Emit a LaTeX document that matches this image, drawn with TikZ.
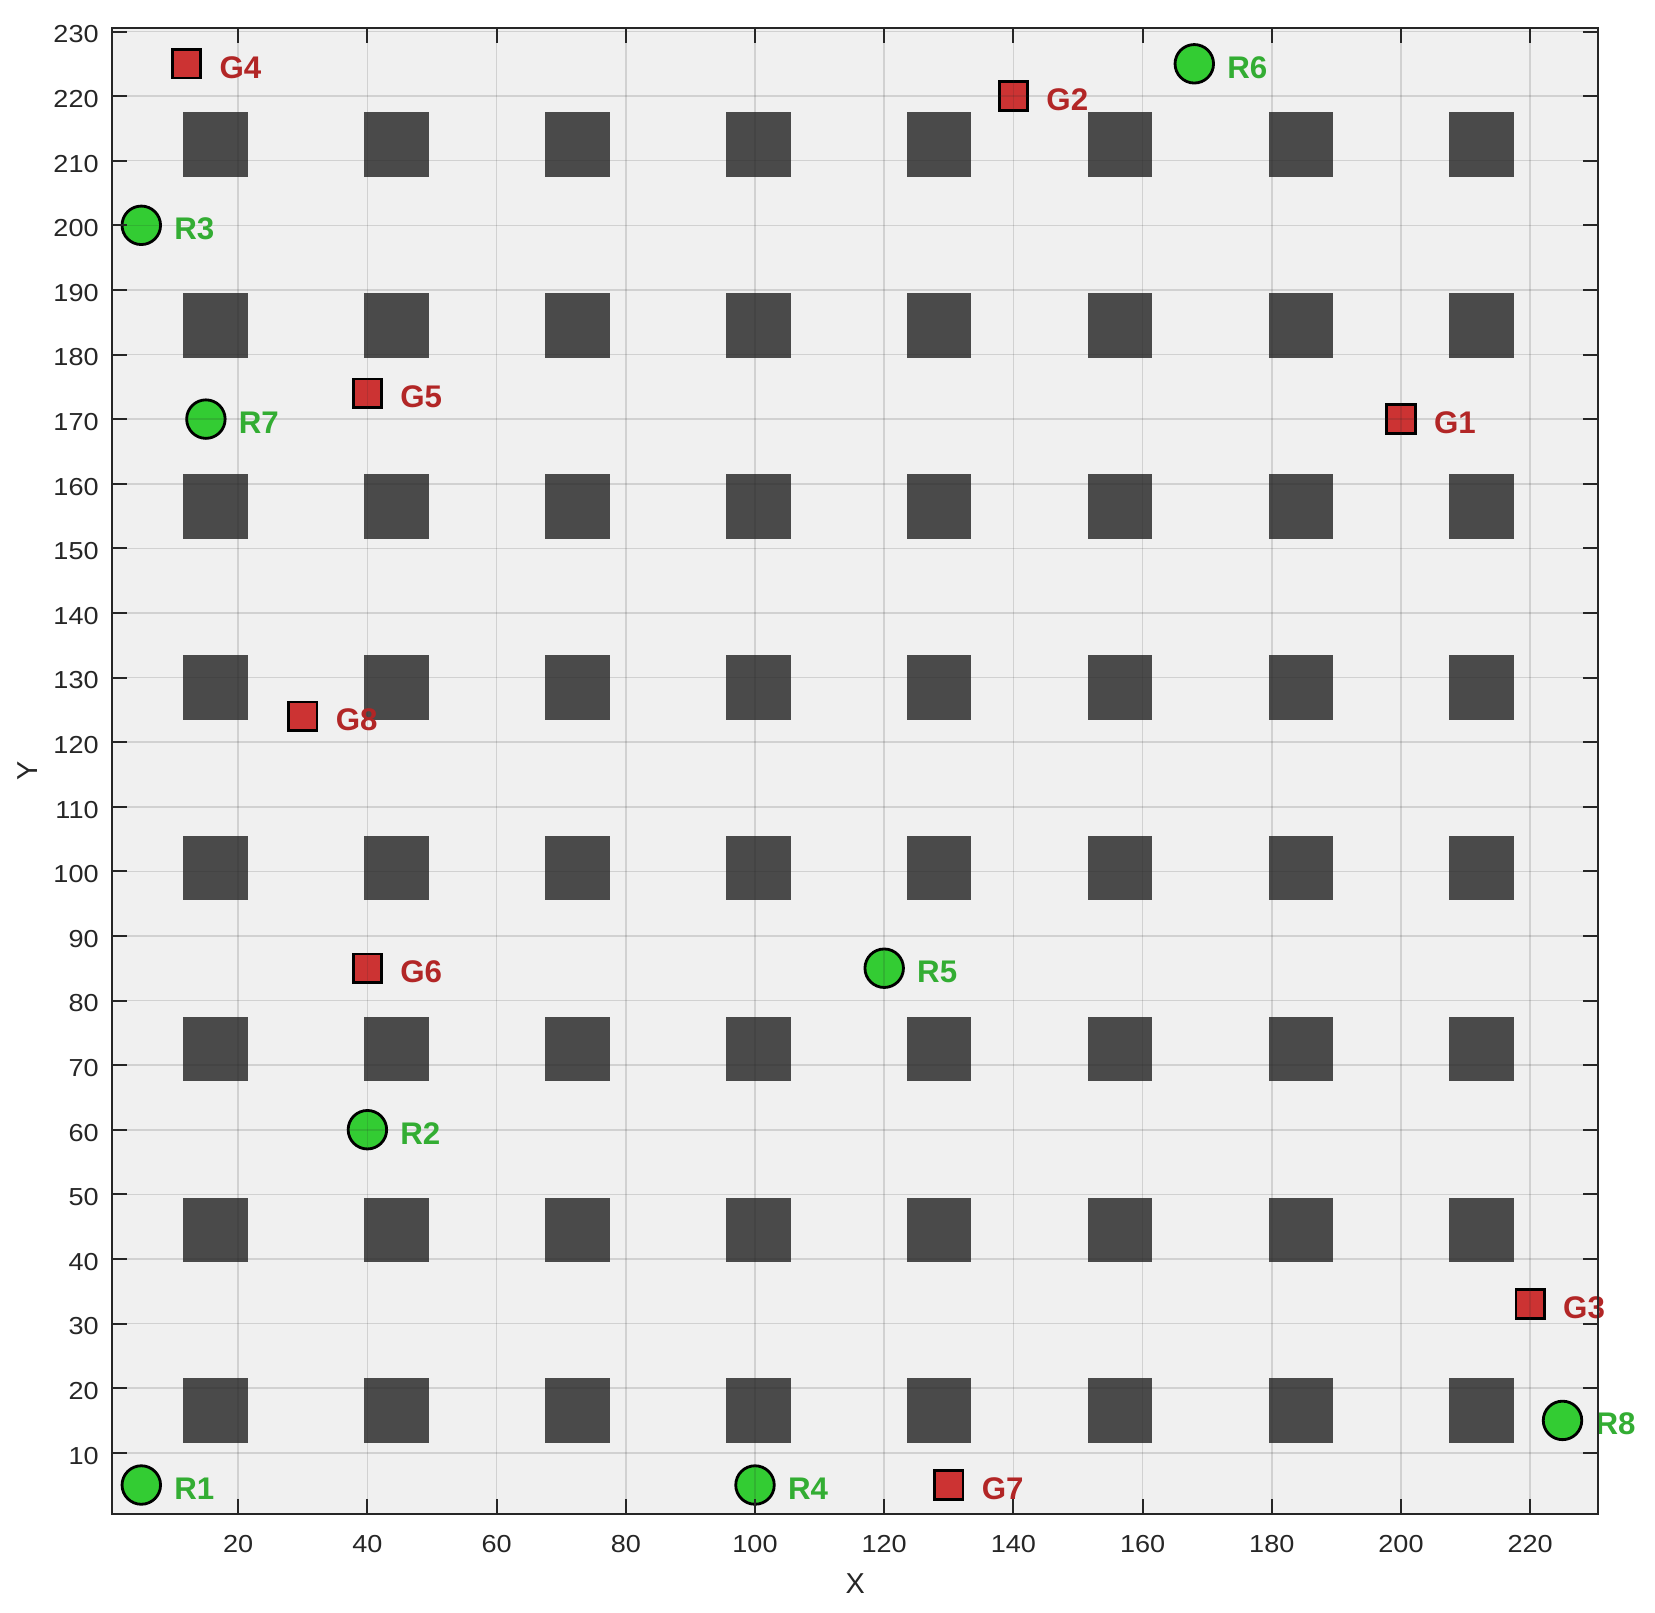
\documentclass[tikz,border=0pt]{standalone}
\usepackage{fontspec}
\setmainfont{Liberation Sans}
\newfontfamily\tickfont[FakeStretch=1.1]{Liberation Sans}
\definecolor{axbg}{HTML}{F0F0F0}
\definecolor{axline}{HTML}{262626}
\definecolor{obst}{HTML}{4A4A4A}
\definecolor{rfill}{rgb}{0.2,0.8,0.2}
\definecolor{rtext}{rgb}{0.2,0.68,0.2}
\definecolor{gfill}{rgb}{0.8,0.2,0.2}
\definecolor{gtext}{rgb}{0.7,0.15,0.15}
\begin{document}
\begin{tikzpicture}[x=0.0646cm,y=0.0646cm,
  robot/.style={circle,draw=black,line width=0.8pt,fill=rfill,minimum size=0.385cm,inner sep=0pt},
  goal/.style={rectangle,draw=black,line width=0.8pt,fill=gfill,minimum size=0.285cm,inner sep=0pt},
  rlabel/.style={anchor=base west,inner sep=0pt,text=rtext,font=\fontsize{8.9}{10}\selectfont\bfseries},
  glabel/.style={anchor=base west,inner sep=0pt,text=gtext,font=\fontsize{8.9}{10}\selectfont\bfseries},
  ticklab/.style={inner sep=0pt,text=axline,font=\tickfont\fontsize{7.0}{8}\selectfont},
  axlab/.style={inner sep=0pt,text=axline,font=\fontsize{8.2}{10}\selectfont},
  gridline/.style={draw=axline,draw opacity=0.15,line width=0.45pt},
  axisline/.style={draw=axline,line width=0.57pt},
]
\useasboundingbox (-16.873,-14.66) rectangle (239.32,234.88);
% axes background
\fill[axbg] (0.5,0.5) rectangle (230.5,230.5);
% obstacles
\foreach \i in {0,...,7}{
  \foreach \j in {0,...,7}{
    \fill[obst] ({11.5+28*\i},{11.5+28*\j}) rectangle ++(10,10);
  }
}
% robots
\foreach \n/\x/\y in {R1/5/5,R2/40/60,R3/5/200,R4/100/5,R5/120/85,R6/168/225,R7/15/170,R8/225/15}{
  \node[robot] (\n) at (\x,\y) {};
}
% goals
\foreach \n/\x/\y in {G1/200/170,G2/140/220,G3/220/33,G4/12/225,G5/40/174,G6/40/85,G7/130/5,G8/30/124}{
  \node[goal] (\n) at (\x,\y) {};
}
% grid (on top)
\foreach \x in {20,40,...,220}{
  \draw[gridline] (\x,0.5) -- (\x,230.5);
}
\foreach \y in {10,20,...,230}{
  \draw[gridline] (0.5,\y) -- (230.5,\y);
}
% labels
\foreach \n/\x/\y in {R1/5/5,R2/40/60,R3/5/200,R4/100/5,R5/120/85,R6/168/225,R7/15/170,R8/225/15}{
  \node[rlabel] (\n-lab) at (\x+5,\y-2.25) {\n};
}
\foreach \n/\x/\y in {G1/200/170,G2/140/220,G3/220/33,G4/12/225,G5/40/174,G6/40/85,G7/130/5,G8/30/124}{
  \node[glabel] (\n-lab) at (\x+5,\y-2.25) {\n};
}
% ticks
\foreach \x in {20,40,...,220}{
  \draw[axisline] (\x,0.5) -- ++(0,2.32);
  \draw[axisline] (\x,230.5) -- ++(0,-2.32);
  \node[ticklab] (xt\x) at (\x,-4.09) {\x};
}
\foreach \y in {10,20,...,230}{
  \draw[axisline] (0.5,\y) -- ++(2.32,0);
  \draw[axisline] (230.5,\y) -- ++(-2.32,0);
  \node[ticklab,anchor=east] (yt\y) at (-1.5,\y-0.46) {\y};
}
% axes box
\draw[axisline] (0.5,0.5) rectangle (230.5,230.5);
% axis labels
\node[axlab] (xlab) at (115.5,-10.2) {X};
\node[axlab,rotate=90] (ylab) at (-12.66,115.5) {Y};
\end{tikzpicture}
\end{document}
